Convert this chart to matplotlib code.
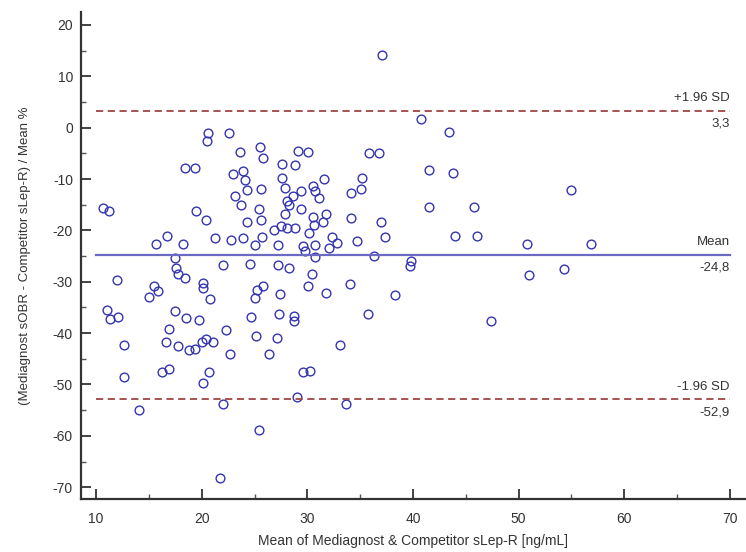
import matplotlib
matplotlib.use("Agg")
import matplotlib.pyplot as plt
from matplotlib.ticker import MultipleLocator

plt.rcParams['font.family'] = ['Liberation Sans', 'DejaVu Sans']
plt.rcParams['axes.unicode_minus'] = False

# mittelwert der beiden methoden [ng/mL]
mean_vals = [
    10.7, 11.2, 12.0, 11.0, 11.3, 12.1, 12.6, 12.6, 14.1,
    15.0, 15.5, 15.9, 15.7, 16.7, 18.2, 17.5, 17.6, 17.8, 18.4,
    17.5, 18.5, 19.7, 16.9, 16.6, 17.8, 16.2, 16.9, 18.4, 19.4,
    19.5, 18.8, 19.4, 20.0, 20.4, 21.1, 20.1, 20.1, 20.8, 20.7,
    20.1, 20.4, 20.6, 20.5, 21.3, 22.0, 22.3, 22.7, 22.0, 21.7,
    22.6, 22.8, 23.0, 23.2, 23.6, 23.9, 24.1, 24.3, 23.7, 24.3,
    23.9, 25.5, 25.8, 25.6, 25.4, 25.6, 25.7, 25.0, 24.6, 25.2,
    25.8, 25.0, 24.7, 25.1, 25.4, 26.4, 26.8, 27.5, 27.6, 27.6,
    27.2, 27.2, 27.4, 27.3, 27.1, 27.9, 28.8, 29.1, 30.1, 28.1,
    28.6, 28.3, 27.9, 28.1, 28.8, 29.4, 29.4, 30.5, 30.7, 31.1,
    31.6, 30.5, 31.8, 31.5, 30.6, 30.2, 29.6, 29.8, 30.7, 30.7,
    32.3, 32.8, 32.1, 28.3, 30.4, 30.1, 31.8, 28.7, 28.7, 29.6,
    30.3, 29.0, 33.1, 33.7, 34.0, 34.1, 34.1, 34.7, 35.2, 35.1,
    35.8, 36.8, 37.0, 37.4, 36.3, 37.1, 35.7, 38.3, 39.8, 39.7,
    40.8, 43.4, 41.5, 43.8, 41.5, 45.8, 44.0, 46.1, 47.4, 50.8,
    56.9, 51.0, 54.3, 55.0,
]

# relative differenz [%]
diff_pct = [
    -15.7, -16.2, -29.6, -35.4, -37.3, -36.9, -42.4, -48.5, -54.9,
    -33.0, -30.9, -31.8, -22.6, -21.1, -22.6, -25.3, -27.4, -28.4, -29.2,
    -35.6, -37.1, -37.4, -39.2, -41.8, -42.6, -47.6, -47.0, -7.9, -7.9,
    -16.3, -43.3, -43.1, -41.7, -41.1, -41.8, -30.3, -31.3, -33.3, -47.5,
    -49.7, -18.0, -1.0, -2.5, -21.4, -26.7, -39.3, -44.1, -53.8, -68.2,
    -1.1, -21.9, -9.1, -13.3, -4.8, -8.4, -10.2, -12.1, -15.1, -18.4,
    -21.5, -3.8, -5.9, -11.9, -15.9, -18.0, -21.2, -22.8, -26.5, -31.7,
    -30.9, -33.1, -36.9, -40.6, -58.8, -44.0, -19.9, -19.1, -7.0, -9.7,
    -22.8, -26.7, -32.4, -36.2, -40.9, -11.8, -7.3, -4.6, -4.8, -14.3,
    -13.3, -15.0, -16.8, -19.6, -19.6, -12.4, -15.9, -11.4, -12.3, -13.7,
    -9.9, -17.3, -16.9, -18.4, -19.0, -20.6, -23.0, -24.0, -22.9, -25.2,
    -21.2, -22.4, -23.4, -27.3, -28.4, -30.8, -32.2, -36.7, -37.6, -47.5,
    -47.3, -52.5, -42.3, -53.8, -30.5, -12.8, -17.5, -22.0, -9.7, -11.9,
    -4.9, -4.9, -18.4, -21.3, -25.0, 14.2, -36.3, -32.6, -25.9, -26.9,
    1.7, -0.9, -8.2, -8.9, -15.4, -15.4, -21.1, -21.1, -37.7, -22.7,
    -22.7, -28.6, -27.5, -12.2,
]

mean_diff = -24.8
upper_loa = 3.3
lower_loa = -52.9

fig = plt.figure(figsize=(7.46, 5.52), dpi=100)
ax = fig.add_axes([0.109, 0.096, 0.889, 0.882])

ax.plot(mean_vals, diff_pct, linestyle='none', marker='o', markersize=6.3,
        markerfacecolor='none', markeredgecolor='#3434b0', markeredgewidth=1.0)

ax.plot([10, 70], [mean_diff, mean_diff], color='#6a6ac4', lw=1.6)
for v in (upper_loa, lower_loa):
    ax.plot([10, 70], [v, v], color='#a04444', lw=1.3, linestyle=(0, (4, 2.5)))

txt = dict(ha='right', fontsize=9.5, color='#333333')
ax.text(70, upper_loa + 1.3, '+1.96 SD', va='bottom', **txt)
ax.text(70, upper_loa - 1.3, '3,3', va='top', **txt)
ax.text(70, mean_diff + 1.3, 'Mean', va='bottom', **txt)
ax.text(70, mean_diff - 1.3, '-24,8', va='top', **txt)
ax.text(70, lower_loa + 1.3, '-1.96 SD', va='bottom', **txt)
ax.text(70, lower_loa - 1.3, '-52,9', va='top', **txt)

ax.set_xlim(8.6, 71.4)
ax.set_ylim(-72.3, 22.5)
ax.xaxis.set_major_locator(MultipleLocator(10))
ax.xaxis.set_minor_locator(MultipleLocator(5))
ax.yaxis.set_major_locator(MultipleLocator(10))
ax.yaxis.set_minor_locator(MultipleLocator(5))
ax.tick_params(which='major', direction='in', length=7, width=1.2,
               labelsize=10, colors='#222222', labelcolor='#333333')
ax.tick_params(axis='x', which='major', pad=9)
ax.tick_params(axis='y', which='major', pad=6)
ax.tick_params(which='minor', direction='in', length=3.5, width=1.0, colors='#555555')

for s in ('top', 'right'):
    ax.spines[s].set_visible(False)
for s in ('left', 'bottom'):
    ax.spines[s].set_linewidth(1.6)
    ax.spines[s].set_color('#333333')

ax.set_xlabel('Mean of Mediagnost & Competitor sLep-R [ng/mL]', fontsize=10,
              color='#333333', labelpad=6)
ax.set_ylabel('(Mediagnost sOBR - Competitor sLep-R) / Mean %', fontsize=9.5,
              color='#333333', labelpad=16)

fig.savefig('out.png', dpi=100)
